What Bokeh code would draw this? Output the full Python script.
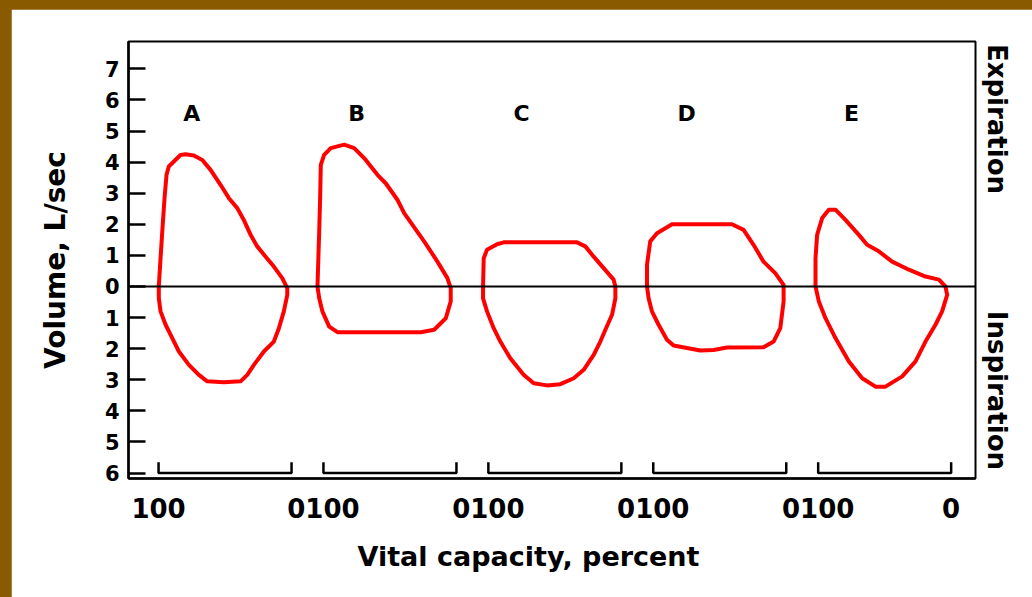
import math

from bokeh.plotting import figure
from bokeh.layouts import column
from bokeh.models import (Range1d, LinearAxis, FixedTicker, CustomJSTickFormatter,
                          Span, Title, ColumnDataSource)
from bokeh.core.properties import value
from bokeh.embed import file_html
from bokeh.resources import INLINE

# Flow-volume loops: vital capacity (percent, 100 -> 0) and flow (L/s, expiration > 0)
PANELS = ["A", "B", "C", "D", "E"]

A_VC = [99.8, 98.5, 97.2, 95.5, 94.0, 92.3, 88.5, 83.5, 79.7, 73.5, 67.1, 60.9, 53.4,
        47.1, 40.8, 35.9, 30.8, 25.8, 19.5, 13.3, 7.0, 3.2, 3.2, 5.8, 9.5, 13.3, 20.8,
        28.3, 33.3, 38.3, 50.9, 63.4, 69.7, 77.2, 84.7, 89.7, 94.7, 98.5, 99.8]
A_FLOW = [0.0, 0.91, 1.77, 2.84, 3.59, 3.86, 4.02, 4.23, 4.25, 4.21, 4.07, 3.75, 3.27,
          2.84, 2.52, 2.14, 1.66, 1.29, 0.96, 0.64, 0.27, -0.05, -0.27, -0.80, -1.34,
          -1.77, -2.09, -2.52, -2.84, -3.05, -3.08, -3.05, -2.84, -2.52, -2.09, -1.66,
          -1.23, -0.80, -0.38]

B_VC = [104.5, 103.2, 102.5, 102.0, 99.5, 94.5, 84.4, 76.9, 69.4, 59.4, 53.2, 44.4,
        39.3, 24.3, 14.3, 6.8, 4.3, 4.3, 8.0, 16.8, 26.8, 89.5, 95.7, 100.8, 103.2]
B_FLOW = [0.0, 1.77, 2.84, 3.91, 4.23, 4.45, 4.56, 4.45, 4.13, 3.59, 3.32, 2.79, 2.36,
          1.45, 0.80, 0.27, -0.05, -0.48, -1.02, -1.39, -1.47, -1.47, -1.29, -0.80, -0.38]

C_VC = [104.0, 103.5, 101.0, 93.5, 88.5, 33.3, 27.1, 20.8, 13.3, 5.8, 4.5, 4.5, 7.0,
        12.0, 15.8, 20.8, 28.3, 35.8, 45.9, 55.9, 65.9, 73.5, 83.5, 91.0, 96.0, 101.0,
        104.0]
C_FLOW = [0.0, 0.91, 1.18, 1.36, 1.42, 1.42, 1.29, 0.96, 0.59, 0.22, 0.0, -0.38, -0.91,
          -1.39, -1.77, -2.20, -2.68, -2.95, -3.14, -3.18, -3.11, -2.84, -2.31, -1.77,
          -1.34, -0.80, -0.38]

D_VC = [104.7, 104.7, 102.3, 97.2, 85.9, 40.8, 32.1, 24.6, 17.1, 8.3, 2.0, 2.0, 4.5,
        9.5, 17.1, 44.6, 54.7, 64.7, 74.7, 84.7, 89.7, 96.0, 101.0, 103.5]
D_FLOW = [0.0, 0.70, 1.45, 1.71, 2.00, 2.00, 1.82, 1.34, 0.80, 0.43, 0.05, -0.48, -1.34,
          -1.77, -1.95, -1.96, -2.04, -2.06, -1.98, -1.90, -1.71, -1.23, -0.80, -0.38]

E_VC = [102.0, 102.0, 100.8, 97.0, 92.0, 87.0, 79.5, 69.4, 63.2, 54.4, 44.4, 31.8, 19.3,
        9.2, 4.3, 3.0, 6.8, 11.8, 19.3, 26.8, 36.8, 49.4, 56.9, 66.9, 76.9, 87.0, 94.5,
        99.5]
E_FLOW = [0.0, 0.91, 1.66, 2.20, 2.47, 2.47, 2.14, 1.66, 1.34, 1.13, 0.80, 0.54, 0.32,
          0.22, 0.0, -0.27, -0.80, -1.23, -1.77, -2.41, -2.89, -3.22, -3.22, -2.95, -2.41,
          -1.66, -1.02, -0.48]

LOOPS_VC = [A_VC, B_VC, C_VC, D_VC, E_VC]
LOOPS_FLOW = [A_FLOW, B_FLOW, C_FLOW, D_FLOW, E_FLOW]

Y_TICKS = [-6, -5, -4, -3, -2, -1, 0, 1, 2, 3, 4, 5, 6, 7]
X_TICK_LABELS = ["100", "0100", "0100", "0100", "0100", "0"]
SIDE_LABELS = ["Expiration", "Inspiration"]

# layout constants
STEP = 124           # horizontal distance between panel origins (percent units)
BRACKET_Y = -6.0
BRACKET_TOP = -5.65
LETTER_X = 25
LETTER_Y = 5.56
SIDE_Y = [7.80, -0.78]   # where each side label starts (it reads downward)

FONT = "DejaVu Sans"
BROWN = "#8A5A00"
RED = "#FF0000"

p = figure(width=1021, height=588, output_backend="svg", toolbar_location=None,
           x_range=Range1d(-22.6, 614.3), y_range=Range1d(-6.174, 7.878),
           min_border_left=117, min_border_right=57, min_border_top=32,
           min_border_bottom=119, x_axis_location=None, y_axis_location=None)
p.grid.visible = False
p.background_fill_color = "white"
p.border_fill_color = "white"
p.outline_line_color = "black"
p.outline_line_width = 2

# left axis: flow, ticks pointing inward, absolute values as labels
yax = LinearAxis(ticker=FixedTicker(ticks=Y_TICKS),
                 formatter=CustomJSTickFormatter(code="return String(Math.abs(tick))"))
yax.axis_label = "Volume, L/sec"
yax.axis_label_text_font = FONT
yax.axis_label_text_font_style = "bold"
yax.axis_label_text_font_size = "28px"
yax.axis_label_text_color = "black"
yax.axis_label_standoff = 30
yax.major_label_text_font = FONT
yax.major_label_text_font_style = "bold"
yax.major_label_text_font_size = "21px"
yax.major_label_text_color = "black"
yax.major_label_standoff = 9
yax.major_tick_in = 17
yax.major_tick_out = 0
yax.major_tick_line_width = 2.5
yax.minor_tick_line_color = None
yax.axis_line_width = 2.5
p.add_layout(yax, "left")

# bottom axis: percent labels at panel origins
x_ticks = [i * STEP for i in range(len(PANELS))] + [(len(PANELS) - 1) * STEP + 100]
xax = LinearAxis(ticker=FixedTicker(ticks=x_ticks),
                 major_label_overrides={t: lab for t, lab in zip(x_ticks, X_TICK_LABELS)})
xax.major_label_text_font = FONT
xax.major_label_text_font_style = "bold"
xax.major_label_text_font_size = "26px"
xax.major_label_text_color = "black"
xax.major_label_standoff = 13
xax.major_tick_line_color = None
xax.minor_tick_line_color = None
xax.axis_line_width = 2.5
p.add_layout(xax, "below")

p.add_layout(Title(text="Vital capacity, percent", align="left", offset=229,
                   vertical_align="bottom", text_color="black",
                   text_font=FONT, text_font_style="bold", text_font_size="27px",
                   standoff=36), "below")

# right axis: expiration / inspiration
rax = LinearAxis(ticker=FixedTicker(ticks=SIDE_Y),
                 major_label_overrides={t: lab for t, lab in zip(SIDE_Y, SIDE_LABELS)})
rax.major_label_orientation = -math.pi / 2
rax.major_label_text_font = FONT
rax.major_label_text_font_style = "bold"
rax.major_label_text_font_size = "26px"
rax.major_label_text_color = "black"
rax.major_label_standoff = 21
rax.axis_label_standoff = 0
rax.major_tick_in = 0
rax.major_tick_out = 0
rax.major_tick_line_color = None
rax.minor_tick_line_color = None
rax.axis_line_color = None
p.add_layout(rax, "right")

# zero-flow line
p.add_layout(Span(location=0, dimension="width", line_color="black", line_width=2))

# percent brackets under each loop
bx, by = [], []
for i in range(len(PANELS)):
    x0 = i * STEP
    bx.append([x0, x0, x0 + 100, x0 + 100])
    by.append([BRACKET_TOP, BRACKET_Y, BRACKET_Y, BRACKET_TOP])
p.multi_line(bx, by, line_color="black", line_width=2.5)

# loops
for i, (vc, fl) in enumerate(zip(LOOPS_VC, LOOPS_FLOW)):
    xs = [i * STEP + (100 - v) for v in vc] + [i * STEP + (100 - vc[0])]
    ys = list(fl) + [fl[0]]
    p.line(xs, ys, line_color=RED, line_width=4, line_join="round", line_cap="round")

# panel letters
src = ColumnDataSource(dict(x=[i * STEP + LETTER_X for i in range(len(PANELS))],
                            y=[LETTER_Y] * len(PANELS), t=PANELS))
p.text("x", "y", text="t", source=src, text_font=value(FONT), text_font_style="bold",
       text_font_size="22px", text_align="center", text_baseline="middle",
       text_color="black")

root = column(p, styles={"background-color": BROWN, "padding": "9px 0 0 11px"})

open("out.html", "w").write(file_html(root, INLINE))
